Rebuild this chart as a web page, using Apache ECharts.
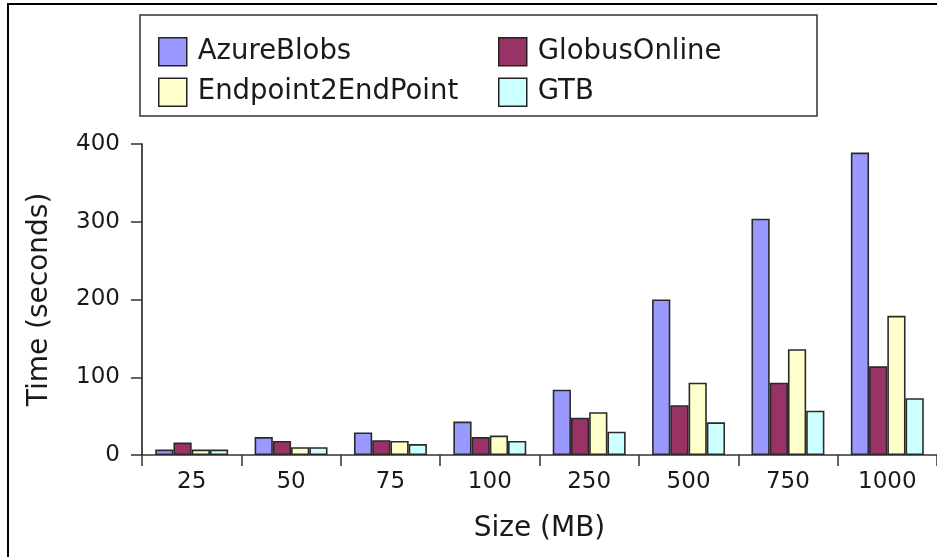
<!DOCTYPE html>
<html>
<head>
<meta charset="utf-8">
<script src="https://cdn.jsdelivr.net/npm/echarts@6/dist/echarts.min.js"></script>
<style>
html,body{margin:0;padding:0;background:#fff;}
#chart{width:937px;height:557px;}
</style>
</head>
<body>
<div id="chart"></div>
<script>
var categories = ['25', '50', '75', '100', '250', '500', '750', '1000'];
var azureBlobs = [7, 23, 29, 43, 84, 200, 304, 389];
var globusOnline = [16, 18, 19, 23, 48, 64, 93, 114];
var endpoint2EndPoint = [7, 10, 18, 25, 55, 93, 136, 179];
var gtb = [7, 10, 14, 18, 30, 42, 57, 73];
var yTicks = [0, 100, 200, 300, 400];

var FONT = 'DejaVu Sans';
var chart = echarts.init(document.getElementById('chart'), null, {renderer: 'canvas'});

function bar(name, data, color) {
  return {
    name: name, type: 'bar', data: data,
    barGap: '0%', barCategoryGap: '26.6%',
    itemStyle: {color: color, borderColor: '#2a2a2a', borderWidth: 1.6},
    emphasis: {disabled: true},
    animation: false
  };
}

var legendCommon = {
  orient: 'vertical', top: 32, itemWidth: 28, itemHeight: 28, itemGap: 11,
  icon: 'rect', selectedMode: false,
  itemStyle: {borderColor: '#222', borderWidth: 1.5},
  textStyle: {fontFamily: FONT, fontSize: 27.5, lineHeight: 28, color: '#1a1a1a', padding: [0, 0, 0, 6]}
};

chart.setOption({
  backgroundColor: '#fff',
  animation: false,
  textStyle: {fontFamily: FONT},
  graphic: [
    {type: 'rect', shape: {x: 8, y: 4, width: 1000, height: 1000}, style: {fill: 'none', stroke: '#000', lineWidth: 2}, z: 100},
    {type: 'rect', shape: {x: 140, y: 15, width: 677, height: 101}, style: {fill: '#fff', stroke: '#333', lineWidth: 1.5}, z: 0}
  ],
  legend: [
    Object.assign({}, legendCommon, {left: 153, data: ['AzureBlobs', 'Endpoint2EndPoint']}),
    Object.assign({}, legendCommon, {left: 493, data: ['GlobusOnline', 'GTB']})
  ],
  grid: {left: 142, right: 0, top: 144, bottom: 102, containLabel: false},
  xAxis: {
    type: 'category', data: categories,
    name: 'Size (MB)', nameLocation: 'middle', nameGap: 60,
    nameTextStyle: {fontFamily: FONT, fontSize: 28, color: '#1a1a1a'},
    axisLine: {show: true, lineStyle: {color: '#333', width: 1.5}},
    axisTick: {show: true, length: 11, inside: false, lineStyle: {color: '#333', width: 1.5}},
    axisLabel: {fontFamily: FONT, fontSize: 23, color: '#1a1a1a', margin: 16},
    splitLine: {show: false}
  },
  yAxis: {
    type: 'value', min: yTicks[0], max: yTicks[yTicks.length - 1], interval: 100,
    name: 'Time (seconds)', nameLocation: 'middle', nameGap: 88, nameRotate: 90,
    nameTextStyle: {fontFamily: FONT, fontSize: 28, color: '#1a1a1a'},
    axisLine: {show: true, lineStyle: {color: '#111', width: 1.5}},
    axisTick: {show: true, length: 11, inside: false, lineStyle: {color: '#333', width: 1.5}},
    axisLabel: {fontFamily: FONT, fontSize: 23, color: '#1a1a1a', margin: 22},
    splitLine: {show: false}
  },
  series: [
    bar('AzureBlobs', azureBlobs, '#9999ff'),
    bar('GlobusOnline', globusOnline, '#993366'),
    bar('Endpoint2EndPoint', endpoint2EndPoint, '#ffffcc'),
    bar('GTB', gtb, '#ccffff')
  ]
});
</script>
</body>
</html>
